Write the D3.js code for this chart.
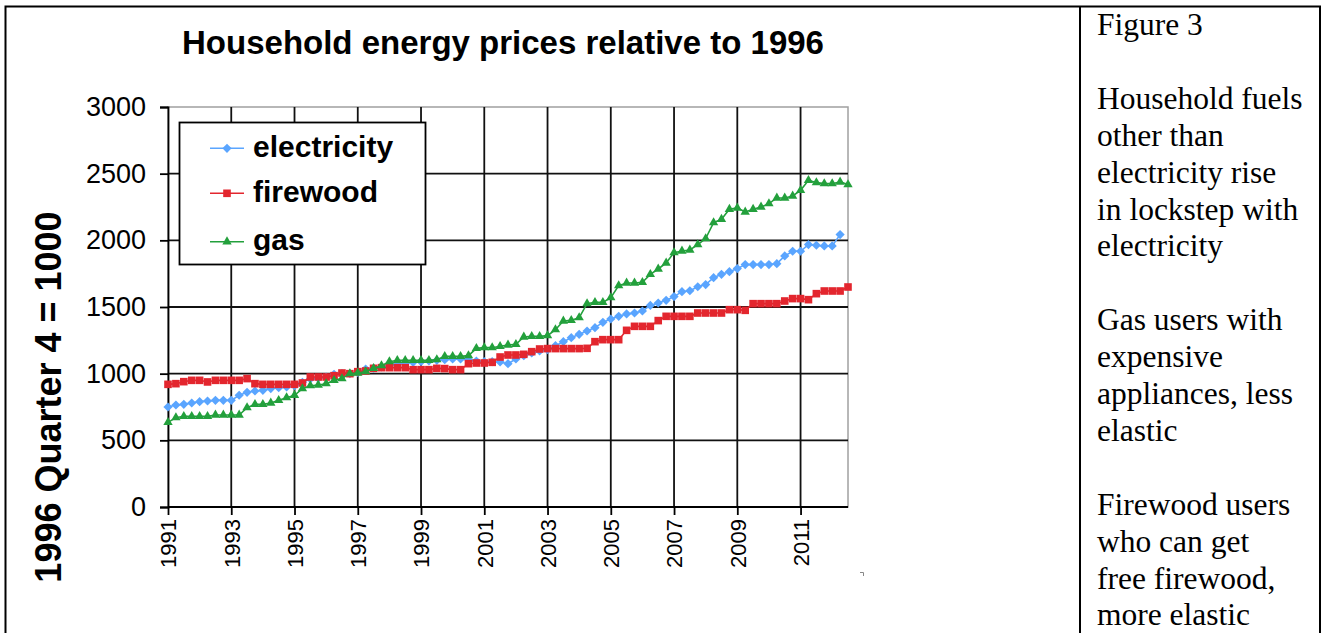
<!DOCTYPE html>
<html><head><meta charset="utf-8">
<script src="https://cdn.jsdelivr.net/npm/d3@7"></script>
<style>body{margin:0;background:#fff}svg{display:block}</style>
</head><body>
<svg id="c" width="1322" height="633"></svg>
<script>
// ---- data (quarterly, 1991 Q1 .. 2012 Q3; 1996 Q4 = 1000) ----
const electricity = [750,765,770,780,790,795,800,800,800,838,860,870,875,888,895,900,910,935,960,965,975,995,1000,1000,
  1010,1035,1040,1050,1060,1070,1075,1085,1090,1095,1100,1105,1110,1110,1105,1095,1090,1090,1088,1075,
  1110,1135,1155,1170,1180,1210,1240,1270,1295,1320,1345,1385,1410,1430,1448,1455,1470,1512,1530,1550,1578,1615,1622,1652,1668,1720,1745,1765,
  1788,1818,1818,1818,1818,1825,1883,1918,1918,1968,1963,1958,1958,2043,null];
const firewood = [920,925,940,950,950,938,950,950,950,950,963,925,920,920,920,920,920,930,975,975,975,985,1005,1000,
  1015,1020,1040,1045,1045,1045,1045,1030,1030,1030,1040,1038,1030,1030,1075,1080,1080,1085,1125,1140,
  1140,1145,1165,1185,1188,1188,1188,1188,1188,1190,1240,1255,1255,1255,1325,1355,1355,1355,1398,1430,1430,1430,1430,1455,1455,1455,1455,1480,
  1480,1475,1525,1525,1525,1525,1545,1563,1563,1555,1600,1620,1620,1620,1650];
const gas = [635,670,680,680,680,680,690,690,690,690,745,770,770,780,800,820,838,888,910,915,925,950,963,1000,
  1005,1015,1040,1060,1090,1100,1100,1100,1100,1100,1105,1130,1130,1130,1135,1190,1195,1195,1205,1215,
  1220,1275,1280,1280,1285,1330,1395,1400,1420,1525,1535,1535,1570,1660,1680,1680,1685,1745,1785,1830,1908,1920,1928,1968,2013,2133,2158,2233,
  2243,2213,2233,2250,2275,2318,2318,2333,2375,2450,2433,2425,2425,2438,2418];
const seriesNames = ["electricity","firewood","gas"];
const xTickLabels = ["1991","1993","1995","1997","1999","2001","2003","2005","2007","2009","2011"];
const yTickValues = [0,500,1000,1500,2000,2500,3000];
const titleText = "Household energy prices relative to 1996";
const yTitleText = "1996 Quarter 4 = 1000";
const noteLines = ["Figure 3","","Household fuels","other than","electricity rise","in lockstep with","electricity","",
  "Gas users with","expensive","appliances, less","elastic","","Firewood users","who can get","free firewood,","more elastic"];

// ---- categories ----
const categories = electricity.map((_, i) => (1991 + Math.floor(i / 4)) + " Q" + (i % 4 + 1));
const tickCats = xTickLabels.map(l => l + " Q1");

const colors = {electricity:"#5aa5ff", firewood:"#e3262e", gas:"#23a03c"};
const seriesData = {electricity, firewood, gas};

const svg = d3.select("#c");
const FONT = "'Liberation Sans', Arial, sans-serif";

// page frame (table borders)
const frame = svg.append("g").attr("stroke","#000").attr("stroke-width",2).attr("fill","none");
frame.append("path").attr("d","M5.5,640 V6.5 H1320 V640");
frame.append("path").attr("d","M1080,6.5 V640");

const x = d3.scalePoint().domain(categories).range([168, 848]).padding(0);
const y = d3.scaleLinear().domain([0, 3000]).range([507, 107]);

// plot border (gray)
svg.append("rect").attr("x",168).attr("y",107).attr("width",680).attr("height",400)
  .attr("fill","none").attr("stroke","#a0a0a0").attr("stroke-width",1.5);

// gridlines
const grid = svg.append("g").attr("stroke","#111").attr("stroke-width",1.8);
grid.selectAll(".hg").data(yTickValues.filter(v => v > 0 && v < 3000)).join("line")
  .attr("x1",168).attr("x2",848).attr("y1",d=>y(d)).attr("y2",d=>y(d));
grid.selectAll(".vg").data(tickCats.slice(1)).join("line")
  .attr("x1",d=>x(d)).attr("x2",d=>x(d)).attr("y1",107).attr("y2",507);

// axes
const yAxis = svg.append("g").attr("transform","translate(168,0)")
  .call(d3.axisLeft(y).tickValues(yTickValues).tickSize(8).tickPadding(14).tickFormat(d3.format("d")));
yAxis.selectAll("path, line").attr("stroke","#000").attr("stroke-width",1.8);
yAxis.selectAll("text").attr("font-family",FONT).attr("font-size",27).attr("fill","#000");

const xAxis = svg.append("g").attr("transform","translate(0,507)")
  .call(d3.axisBottom(x).tickValues(tickCats).tickSize(8).tickFormat(d => d.slice(0,4)));
xAxis.select(".domain").attr("stroke","#000").attr("stroke-width",1.8).attr("d","M168,0H848");
xAxis.selectAll("line").attr("stroke","#000").attr("stroke-width",1.8);
xAxis.selectAll("text").attr("font-family",FONT).attr("font-size",22).attr("fill","#000")
  .attr("transform","rotate(-90)").attr("text-anchor","end").attr("x",-12).attr("y",0).attr("dy","0.36em");

// small stray mark
svg.append("path").attr("d","M860,572.5H863.5V576").attr("stroke","#888").attr("stroke-width",1).attr("fill","none");

// markers
function marker(sel, name) {
  if (name === "electricity") sel.append("path").attr("d","M0,-4.6L4.6,0L0,4.6L-4.6,0Z");
  else if (name === "firewood") sel.append("rect").attr("x",-3.8).attr("y",-3.8).attr("width",7.6).attr("height",7.6);
  else sel.append("path").attr("d", d3.symbol(d3.symbolTriangle, 38)());
}

// series
seriesNames.forEach(name => {
  const vals = seriesData[name];
  const pts = vals.map((v,i) => ({c: categories[i], v})).filter(d => d.v != null);
  svg.append("path").datum(pts)
    .attr("fill","none").attr("stroke",colors[name]).attr("stroke-width",1.6)
    .attr("d", d3.line().x(d=>x(d.c)).y(d=>y(d.v)));
  const g = svg.append("g").attr("fill",colors[name]);
  pts.forEach(d => {
    const m = g.append("g").attr("transform",`translate(${x(d.c)},${y(d.v)})`);
    marker(m, name);
  });
});

// legend
const lg = svg.append("g");
lg.append("rect").attr("x",179.5).attr("y",122.5).attr("width",246).attr("height",142)
  .attr("fill","#fff").attr("stroke","#000").attr("stroke-width",1.8);
const rowY = [148.3, 193.3, 241.7];
seriesNames.forEach((name, k) => {
  lg.append("line").attr("x1",210).attr("x2",244).attr("y1",rowY[k]).attr("y2",rowY[k])
    .attr("stroke",colors[name]).attr("stroke-width",1.6);
  const m = lg.append("g").attr("fill",colors[name]).attr("transform",`translate(227,${rowY[k]})`);
  marker(m, name);
  lg.append("text").attr("x",253).attr("y",rowY[k]+8.6).text(name)
    .attr("font-family",FONT).attr("font-weight","bold").attr("font-size",30).attr("fill","#000");
});

// titles
svg.append("text").attr("x",503).attr("y",53.5).attr("text-anchor","middle")
  .attr("font-family",FONT).attr("font-weight","bold").attr("font-size",33).text(titleText);
svg.append("text").attr("transform","translate(48,397) rotate(-90)").attr("text-anchor","middle")
  .attr("dy","0.36em").attr("font-family",FONT).attr("font-weight","bold").attr("font-size",36).text(yTitleText);

// side notes
const notes = svg.append("g").attr("font-family","'Liberation Serif', 'Times New Roman', serif")
  .attr("font-size",31.5).attr("fill","#000");
noteLines.forEach((t, i) => {
  if (t) notes.append("text").attr("x",1097).attr("y",35 + i*36.9).text(t);
});
</script>
</body></html>
